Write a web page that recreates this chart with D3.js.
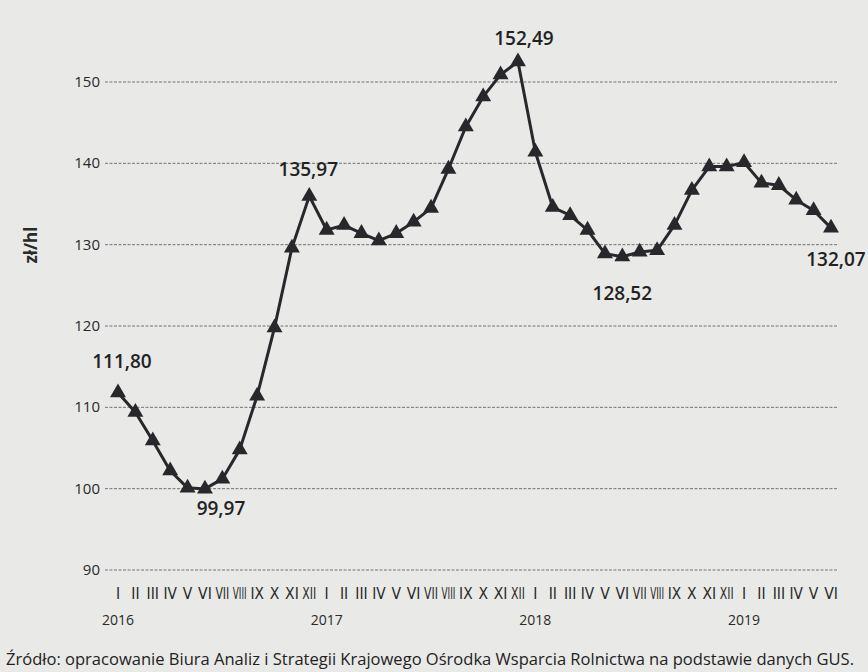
<!DOCTYPE html>
<html>
<head>
<meta charset="utf-8">
<script src="https://cdn.jsdelivr.net/npm/d3@7"></script>
<style>
  html, body { margin: 0; padding: 0; background: #e9e9e7; }
  svg { display: block; font-family: "Open Sans", "Noto Sans", sans-serif; }
</style>
</head>
<body>
<svg id="chart" width="868" height="672"></svg>
<script>
// Monthly price, zł/hl, I 2016 – VI 2019
const months = ["I","II","III","IV","V","VI","VII","VIII","IX","X","XI","XII"];
const years = ["2016", "2017", "2018", "2019"];
const prices = [
  111.80, 109.4, 105.9, 102.2, 100.1, 99.97, 101.2, 104.8, 111.4, 119.8, 129.6, 135.97,
  131.8, 132.4, 131.4, 130.5, 131.4, 132.8, 134.5, 139.3, 144.5, 148.2, 150.9, 152.49,
  141.4, 134.6, 133.6, 131.8, 128.9, 128.52, 129.1, 129.3, 132.4, 136.7, 139.6, 139.6,
  140.1, 137.6, 137.3, 135.5, 134.2, 132.07
];
const yTicks = [90, 100, 110, 120, 130, 140, 150];
// labelled points: index, text, placement
const callouts = [
  { i: 0,  text: "111,80", dx: 4,  dy: -25 },
  { i: 5,  text: "99,97",  dx: 16, dy: 26 },
  { i: 11, text: "135,97", dx: -1, dy: -20 },
  { i: 23, text: "152,49", dx: 6,  dy: -17 },
  { i: 29, text: "128,52", dx: 0,  dy: 43 },
  { i: 41, text: "132,07", dx: 5,  dy: 38 }
];

const svg = d3.select("#chart");
const ink = "#28282c";

const x = d3.scaleLinear().domain([0, prices.length - 1]).range([118, 831]);
const y = d3.scaleLinear().domain([90, 150]).range([570, 82]);
const step = x(1) - x(0);

// ── Grid lines ──
svg.append("g")
  .selectAll("line")
  .data(yTicks)
  .join("line")
    .attr("x1", 105).attr("x2", 838)
    .attr("y1", d => y(d)).attr("y2", d => y(d))
    .attr("stroke", "#55555a")
    .attr("stroke-width", 0.8)
    .attr("stroke-dasharray", "3,1.5");

// ── Y axis labels ──
svg.append("g")
  .selectAll("text")
  .data(yTicks)
  .join("text")
    .attr("x", 100)
    .attr("y", d => y(d) + 5)
    .attr("text-anchor", "end")
    .attr("font-size", 15)
    .attr("fill", "#2a2a2a")
    .text(d => d);

svg.append("text")
  .attr("transform", "translate(37,245) rotate(-90)")
  .attr("text-anchor", "middle")
  .attr("font-size", 17)
  .attr("font-weight", 700)
  .attr("fill", "#2a2a2a")
  .text("zł/hl");

// ── X axis: months + years ──
// long numerals (VII, VIII) are squeezed horizontally to fit one month slot
const maxW = step - 3.5;
svg.append("g")
  .selectAll("text")
  .data(prices)
  .join("text")
    .attr("text-anchor", "middle")
    .attr("font-size", 15.5)
    .attr("font-family", "'DejaVu Sans Condensed', 'Liberation Sans Narrow', sans-serif")
    .attr("font-stretch", "condensed")
    .attr("fill", "#2a2a2a")
    .text((d, i) => months[i % 12])
    .each(function(d, i) {
      const w = this.getBBox().width;
      const sx = w > maxW ? maxW / w : 1;
      d3.select(this).attr("transform", `translate(${x(i)},599) scale(${sx},1)`);
    });

svg.append("g")
  .selectAll("text")
  .data(years)
  .join("text")
    .attr("x", (d, i) => x(i * 12))
    .attr("y", 625)
    .attr("text-anchor", "middle")
    .attr("font-size", 14)
    .attr("fill", "#2a2a2a")
    .text(d => d);

// ── Line + markers ──
const line = d3.line()
  .x((d, i) => x(i))
  .y(d => y(d));

svg.append("path")
  .datum(prices)
  .attr("fill", "none")
  .attr("stroke", ink)
  .attr("stroke-width", 3)
  .attr("stroke-linejoin", "round")
  .attr("d", line);

svg.append("g")
  .selectAll("path")
  .data(prices)
  .join("path")
    .attr("transform", (d, i) => `translate(${x(i)},${y(d)})`)
    .attr("d", d3.symbol(d3.symbolTriangle, 110))
    .attr("fill", ink);

// ── Callout values ──
svg.append("g")
  .selectAll("text")
  .data(callouts)
  .join("text")
    .attr("x", d => x(d.i) + d.dx)
    .attr("y", d => y(prices[d.i]) + d.dy)
    .attr("text-anchor", "middle")
    .attr("font-size", 19)
    .attr("font-weight", 600)
    .attr("fill", "#222")
    .text(d => d.text);

// ── Source note ──
svg.append("text")
  .attr("x", 6)
  .attr("y", 665)
  .attr("font-size", 16)
  .attr("fill", "#222")
  .attr("textLength", 848)
  .attr("lengthAdjust", "spacingAndGlyphs")
  .text("Źródło: opracowanie Biura Analiz i Strategii Krajowego Ośrodka Wsparcia Rolnictwa na podstawie danych GUS.");
</script>
</body>
</html>
